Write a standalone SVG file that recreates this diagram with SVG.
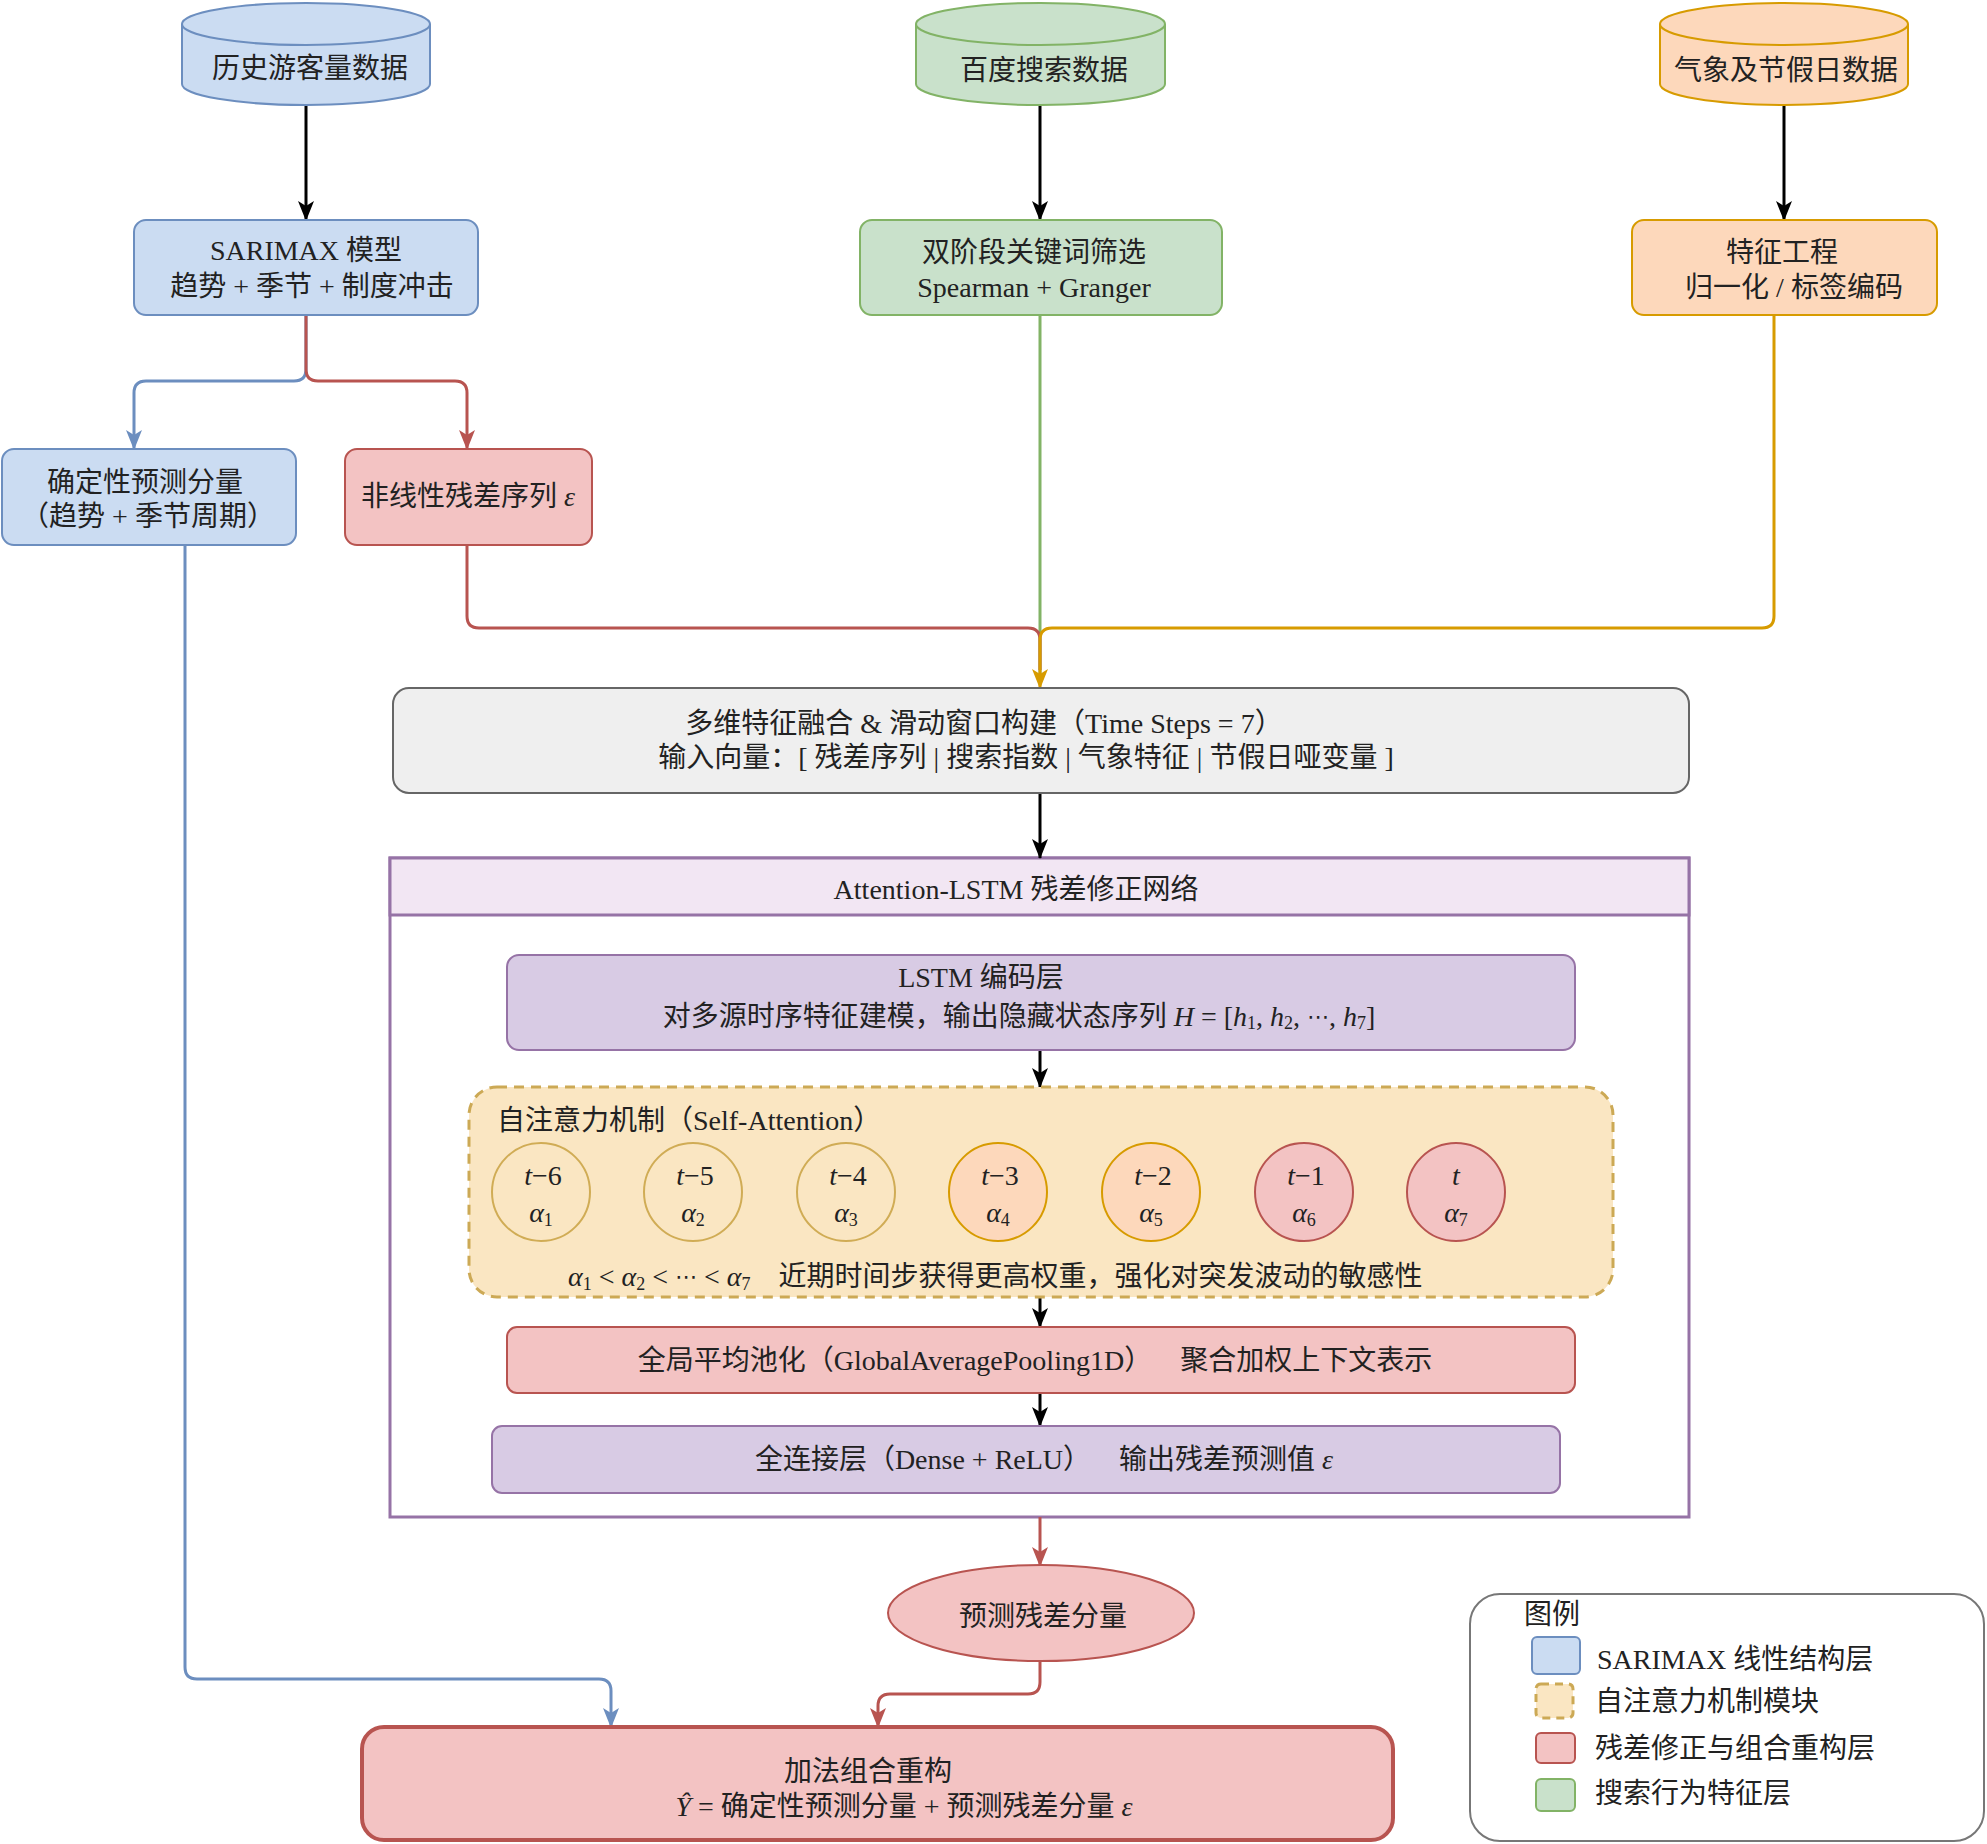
<svg xmlns="http://www.w3.org/2000/svg" width="1987" height="1844" viewBox="0 0 1987 1844">
<defs>
<style>
.t{font-family:"Liberation Serif","Noto Sans CJK SC",serif;font-size:28px;fill:#222;dominant-baseline:central;text-anchor:middle;white-space:pre}
.s{text-anchor:start}
.i{font-style:italic}
.dots{font-family:"DejaVu Serif","DejaVu Sans",serif;font-size:22px}
.blue{fill:#cbdcf2;stroke:#6c8ebf;stroke-width:2}
.green{fill:#c9e1cb;stroke:#82b366;stroke-width:2}
.orange{fill:#fdd8bb;stroke:#d79b00;stroke-width:2}
.red{fill:#f3c3c3;stroke:#b85450;stroke-width:2}
.gray{fill:#efefef;stroke:#666;stroke-width:2}
.purple{fill:#d8cbe4;stroke:#9673a6;stroke-width:2}
.yellowc{fill:#fae6c2;stroke:#d0ac55;stroke-width:2}
.c{fill:none;stroke-width:3}
</style>
<marker id="ak" viewBox="0 0 20 16" markerWidth="20" markerHeight="16" refX="19" refY="8" orient="auto" markerUnits="userSpaceOnUse"><path d="M0,0 L20,8 L0,16 L5,8 Z" fill="#000"/></marker>
<marker id="ab" viewBox="0 0 20 16" markerWidth="20" markerHeight="16" refX="19" refY="8" orient="auto" markerUnits="userSpaceOnUse"><path d="M0,0 L20,8 L0,16 L5,8 Z" fill="#6c8ebf"/></marker>
<marker id="ar" viewBox="0 0 20 16" markerWidth="20" markerHeight="16" refX="19" refY="8" orient="auto" markerUnits="userSpaceOnUse"><path d="M0,0 L20,8 L0,16 L5,8 Z" fill="#b85450"/></marker>
<marker id="ao" viewBox="0 0 20 16" markerWidth="20" markerHeight="16" refX="19" refY="8" orient="auto" markerUnits="userSpaceOnUse"><path d="M0,0 L20,8 L0,16 L5,8 Z" fill="#d79b00"/></marker>
</defs>
<rect width="1987" height="1844" fill="#fff"/>

<g id="attn-lstm">
<rect x="390" y="858" width="1299" height="659" fill="#fff" stroke="#9673a6" stroke-width="3"/>
<rect x="390" y="858" width="1299" height="57" fill="#f2e6f3" stroke="#9673a6" stroke-width="3"/>
<text class="t" x="1016" y="889">Attention-LSTM 残差修正网络</text>
</g>

<g id="connectors">
<path class="c" stroke="#000" stroke-width="2.5" d="M306,105 V220" marker-end="url(#ak)"/>
<path class="c" stroke="#000" stroke-width="2.5" d="M1040,105 V220" marker-end="url(#ak)"/>
<path class="c" stroke="#000" stroke-width="2.5" d="M1784,105 V220" marker-end="url(#ak)"/>
<path class="c" stroke="#6c8ebf" d="M306,315 V369 Q306,381 294,381 H146 Q134,381 134,393 V449" marker-end="url(#ab)"/>
<path class="c" stroke="#b85450" d="M306,315 V369 Q306,381 318,381 H455 Q467,381 467,393 V449" marker-end="url(#ar)"/>
<path class="c" stroke="#6c8ebf" d="M185,545 V1667 Q185,1679 197,1679 H599 Q611,1679 611,1691 V1727" marker-end="url(#ab)"/>
<path class="c" stroke="#82b366" stroke-width="2" d="M1040,315 V680"/>
<path class="c" stroke="#b85450" d="M467,545 V616 Q467,628 479,628 H1028 Q1040,628 1040,640 V670"/>
<path class="c" stroke="#d79b00" d="M1774,315 V616 Q1774,628 1762,628 H1052 Q1040,628 1040,640 V688" marker-end="url(#ao)"/>
<path class="c" stroke="#000" stroke-width="2.5" d="M1040,793 V858" marker-end="url(#ak)"/>
<path class="c" stroke="#000" stroke-width="2.5" d="M1040,1050 V1087" marker-end="url(#ak)"/>
<path class="c" stroke="#000" stroke-width="2.5" d="M1040,1297 V1327" marker-end="url(#ak)"/>
<path class="c" stroke="#000" stroke-width="2.5" d="M1040,1393 V1426" marker-end="url(#ak)"/>
<path class="c" stroke="#b85450" d="M1040,1517 V1566" marker-end="url(#ar)"/>
<path class="c" stroke="#b85450" d="M1040,1661 V1682 Q1040,1694 1028,1694 H890 Q878,1694 878,1706 V1727" marker-end="url(#ar)"/>
</g>

<g id="n-hist">
<path class="blue" d="M182,24 A124,21 0 0 1 430,24 V84 A124,21 0 0 1 182,84 Z"/>
<path class="blue" fill="none" d="M182,24 A124,21 0 0 0 430,24"/>
<text class="t" x="310" y="68">历史游客量数据</text>
</g>
<g id="n-baidu">
<path class="green" d="M916,24 A124.5,21 0 0 1 1165,24 V84 A124.5,21 0 0 1 916,84 Z"/>
<path class="green" fill="none" d="M916,24 A124.5,21 0 0 0 1165,24"/>
<text class="t" x="1044" y="70">百度搜索数据</text>
</g>
<g id="n-weather">
<path class="orange" d="M1660,24 A124,21 0 0 1 1908,24 V84 A124,21 0 0 1 1660,84 Z"/>
<path class="orange" fill="none" d="M1660,24 A124,21 0 0 0 1908,24"/>
<text class="t" x="1786" y="70">气象及节假日数据</text>
</g>

<g id="n-sarimax">
<rect class="blue" x="134" y="220" width="344" height="95" rx="12"/>
<text class="t" x="306" y="250">SARIMAX 模型</text>
<text class="t" x="312" y="286">趋势 + 季节 + 制度冲击</text>
</g>
<g id="n-keyword">
<rect class="green" x="860" y="220" width="362" height="95" rx="12"/>
<text class="t" x="1034" y="252">双阶段关键词筛选</text>
<text class="t" x="1034" y="287">Spearman + Granger</text>
</g>
<g id="n-feature">
<rect class="orange" x="1632" y="220" width="305" height="95" rx="12"/>
<text class="t" x="1782" y="252">特征工程</text>
<text class="t" x="1794" y="287">归一化 / 标签编码</text>
</g>

<g id="n-determ">
<rect class="blue" x="2" y="449" width="294" height="96" rx="12"/>
<text class="t" x="145" y="482">确定性预测分量</text>
<text class="t" x="148" y="516">（趋势 + 季节周期）</text>
</g>
<g id="n-resid">
<rect class="red" x="345" y="449" width="247" height="96" rx="12"/>
<text class="t" x="468" y="496">非线性残差序列 <tspan class="i">ε</tspan></text>
</g>

<g id="n-fusion">
<rect class="gray" x="393" y="688" width="1296" height="105" rx="16"/>
<text class="t" x="984" y="723">多维特征融合 &amp; 滑动窗口构建（Time Steps = 7）</text>
<text class="t" x="1026" y="757">输入向量：[ 残差序列 | 搜索指数 | 气象特征 | 节假日哑变量 ]</text>
</g>

<g id="n-lstm">
<rect class="purple" x="507" y="955" width="1068" height="95" rx="12"/>
<text class="t" x="981" y="977">LSTM 编码层</text>
<text class="t" x="1019" y="1016">对多源时序特征建模，输出隐藏状态序列 <tspan class="i">H</tspan> = [<tspan class="i">h</tspan><tspan dy="7" font-size="18">1</tspan><tspan dy="-7">, </tspan><tspan class="i">h</tspan><tspan dy="7" font-size="18">2</tspan><tspan dy="-7">, </tspan><tspan class="dots">⋯</tspan>, <tspan class="i">h</tspan><tspan dy="7" font-size="18">7</tspan><tspan dy="-7">]</tspan></text>
</g>

<g id="n-selfattn">
<rect x="469" y="1087" width="1144" height="210" rx="28" fill="#fae6c2" stroke="#cca955" stroke-width="3" stroke-dasharray="10 7"/>
<text class="t s" x="497" y="1120">自注意力机制（Self-Attention）</text>
<g id="n-step1"><circle class="yellowc" cx="541" cy="1192" r="49"/><text class="t" x="543" y="1175"><tspan class="i">t</tspan>−6</text><text class="t" x="541" y="1212"><tspan class="i">α</tspan><tspan dy="8" font-size="18">1</tspan></text></g>
<g id="n-step2"><circle class="yellowc" cx="693" cy="1192" r="49"/><text class="t" x="695" y="1175"><tspan class="i">t</tspan>−5</text><text class="t" x="693" y="1212"><tspan class="i">α</tspan><tspan dy="8" font-size="18">2</tspan></text></g>
<g id="n-step3"><circle class="yellowc" cx="846" cy="1192" r="49"/><text class="t" x="848" y="1175"><tspan class="i">t</tspan>−4</text><text class="t" x="846" y="1212"><tspan class="i">α</tspan><tspan dy="8" font-size="18">3</tspan></text></g>
<g id="n-step4"><circle class="orange" cx="998" cy="1192" r="49"/><text class="t" x="1000" y="1175"><tspan class="i">t</tspan>−3</text><text class="t" x="998" y="1212"><tspan class="i">α</tspan><tspan dy="8" font-size="18">4</tspan></text></g>
<g id="n-step5"><circle class="orange" cx="1151" cy="1192" r="49"/><text class="t" x="1153" y="1175"><tspan class="i">t</tspan>−2</text><text class="t" x="1151" y="1212"><tspan class="i">α</tspan><tspan dy="8" font-size="18">5</tspan></text></g>
<g id="n-step6"><circle class="red" cx="1304" cy="1192" r="49"/><text class="t" x="1306" y="1175"><tspan class="i">t</tspan>−1</text><text class="t" x="1304" y="1212"><tspan class="i">α</tspan><tspan dy="8" font-size="18">6</tspan></text></g>
<g id="n-step7"><circle class="red" cx="1456" cy="1192" r="49"/><text class="t i" x="1456" y="1175">t</text><text class="t" x="1456" y="1212"><tspan class="i">α</tspan><tspan dy="8" font-size="18">7</tspan></text></g>
<text class="t s" x="568" y="1276"><tspan class="i">α</tspan><tspan dy="8" font-size="18">1</tspan><tspan dy="-8"> &lt; </tspan><tspan class="i">α</tspan><tspan dy="8" font-size="18">2</tspan><tspan dy="-8"> &lt; </tspan><tspan class="dots">⋯</tspan> &lt; <tspan class="i">α</tspan><tspan dy="8" font-size="18">7</tspan><tspan dy="-8">    近期时间步获得更高权重，强化对突发波动的敏感性</tspan></text>
</g>

<g id="n-pool">
<rect class="red" x="507" y="1327" width="1068" height="66" rx="10"/>
<text class="t" x="1035" y="1360">全局平均池化（GlobalAveragePooling1D）    聚合加权上下文表示</text>
</g>
<g id="n-dense">
<rect class="purple" x="492" y="1426" width="1068" height="67" rx="10"/>
<text class="t" x="1044" y="1459">全连接层（Dense + ReLU）    输出残差预测值 <tspan class="i">ε</tspan></text>
</g>

<g id="n-predres">
<ellipse class="red" cx="1041" cy="1613" rx="153" ry="48"/>
<text class="t" x="1043" y="1616">预测残差分量</text>
</g>

<g id="n-final">
<rect x="362" y="1727" width="1031" height="113" rx="22" fill="#f3c3c3" stroke="#b85450" stroke-width="4"/>
<text class="t" x="868" y="1771">加法组合重构</text>
<text class="t" x="904" y="1806"><tspan class="i">Ŷ</tspan> = 确定性预测分量 + 预测残差分量 <tspan class="i">ε</tspan></text>
</g>

<g id="legend">
<rect x="1470" y="1594" width="514" height="247" rx="30" fill="#fff" stroke="#777" stroke-width="2"/>
<text class="t s" x="1524" y="1614">图例</text>
<rect class="blue" x="1532" y="1637" width="48" height="37" rx="5"/>
<text class="t s" x="1597" y="1659">SARIMAX 线性结构层</text>
<rect x="1536" y="1684" width="37" height="34" rx="5" fill="#fae6c2" stroke="#cca955" stroke-width="3" stroke-dasharray="8 6"/>
<text class="t s" x="1595" y="1701">自注意力机制模块</text>
<rect class="red" x="1536" y="1733" width="39" height="30" rx="5"/>
<text class="t s" x="1595" y="1748">残差修正与组合重构层</text>
<rect class="green" x="1536" y="1779" width="39" height="32" rx="5"/>
<text class="t s" x="1595" y="1793">搜索行为特征层</text>
</g>
</svg>
